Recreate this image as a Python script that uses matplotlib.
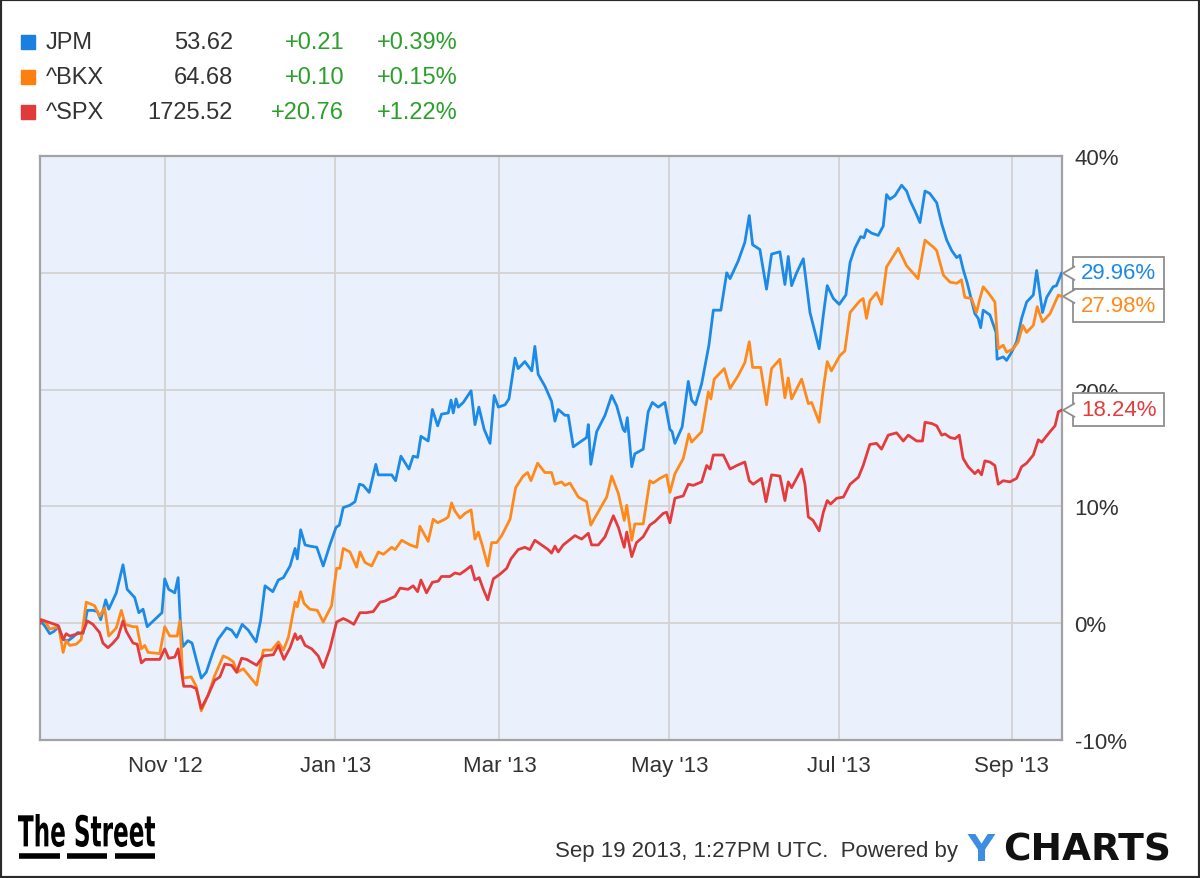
import numpy as np
import matplotlib
matplotlib.use("Agg")
import matplotlib.pyplot as plt
import matplotlib.dates as mdates
from matplotlib.patches import Rectangle, Polygon, PathPatch
from matplotlib.lines import Line2D
from matplotlib.textpath import TextPath
from matplotlib.font_manager import FontProperties
from matplotlib.transforms import blended_transform_factory, Affine2D
from datetime import datetime

# Datos: (dias desde 17-sep-2012, cambio %)
jpm_points = [
    (0, 0.0), (0.3, 0.2), (1.9, -0.3), (3.5, -0.9), (5.0, -0.7), (6.7, -0.3), (8.3, -1.4), (10.1, -1.5),
    (11.8, -1.2), (13.6, -0.8), (15.4, -0.9), (17.0, 1.1), (19.0, 1.1), (20.6, 1.0), (21.8, 0.3),
    (23.6, 2.0), (24.7, 1.2), (27.4, 2.6), (29.8, 5.0), (31.3, 2.9), (34.0, 2.2), (35.5, 0.9),
    (37.0, 1.2), (38.5, -0.3), (43.8, 0.9), (44.8, 3.8), (46.2, 2.9), (48.4, 2.6), (49.6, 3.9),
    (50.4, 0.1), (51.3, -2.0), (53.1, -1.5), (54.6, -1.7), (56.1, -3.1), (57.9, -4.7), (59.7, -4.2),
    (62.1, -2.5), (63.9, -1.4), (67.0, -0.4), (68.8, -0.6), (70.6, -1.2), (72.6, -0.1), (74.8, -0.6),
    (77.6, -1.6), (79.2, 0.2), (80.8, 3.2), (83.6, 2.7), (85.6, 3.7), (87.4, 3.9), (89.8, 4.9),
    (91.6, 6.4), (92.4, 5.5), (93.6, 8.0), (95.2, 6.7), (96.9, 6.6), (99.4, 6.5), (101.7, 4.9),
    (104.1, 6.7), (106.3, 8.2), (107.5, 8.4), (108.9, 9.9), (111.3, 10.1), (113.1, 10.4), (114.7, 11.9),
    (116.1, 11.8), (118.2, 11.2), (120.6, 13.6), (121.5, 12.7), (123.9, 12.7), (126.3, 12.7),
    (127.7, 12.2), (129.6, 14.3), (132.5, 13.2), (134.0, 14.3), (135.6, 14.2), (136.8, 16.0),
    (139.4, 15.6), (140.9, 18.3), (142.8, 16.9), (144.2, 17.9), (146.6, 18.0), (147.6, 19.1),
    (148.4, 18.0), (149.4, 19.2), (150.2, 18.5), (152.0, 18.9), (154.8, 19.9), (156.2, 17.0),
    (157.6, 18.5), (159.5, 16.6), (161.6, 15.4), (163.1, 19.5), (164.6, 18.5), (167.0, 18.7),
    (168.4, 19.2), (170.6, 22.7), (171.7, 21.8), (174.1, 22.4), (176.6, 21.6), (177.7, 23.7),
    (178.9, 21.3), (181.3, 20.3), (183.7, 19.0), (184.9, 17.3), (186.1, 18.3), (188.5, 17.8),
    (189.7, 17.8), (191.5, 15.1), (193.9, 15.5), (196.3, 15.9), (196.9, 17.0), (197.8, 13.6),
    (199.9, 16.4), (202.9, 17.8), (205.3, 19.5), (207.1, 18.6), (209.4, 16.6), (210.1, 16.4),
    (210.9, 17.6), (212.5, 13.4), (213.6, 14.5), (216.6, 14.9), (218.4, 18.1), (219.9, 18.9),
    (222.0, 18.5), (224.4, 18.9), (226.2, 16.6), (227.0, 16.4), (228.0, 15.4), (230.6, 16.8),
    (232.8, 20.7), (234.0, 19.1), (235.4, 18.7), (237.6, 20.5), (240.2, 23.8), (241.8, 26.8),
    (244.5, 26.8), (246.6, 30.0), (247.8, 29.5), (250.7, 31.0), (253.1, 32.6), (254.7, 34.9),
    (255.9, 32.4), (258.5, 32.0), (260.9, 28.6), (262.7, 31.6), (265.7, 31.8), (267.5, 29.0),
    (268.7, 31.4), (269.9, 28.9), (271.7, 30.0), (274.1, 31.2), (276.5, 26.6), (279.8, 23.5),
    (281.3, 26.4), (282.7, 28.9), (284.9, 27.8), (287.0, 27.3), (289.4, 28.1), (290.9, 30.9),
    (292.6, 32.1), (294.7, 33.1), (295.9, 33.0), (296.8, 33.7), (298.6, 33.4), (301.0, 33.2),
    (302.8, 34.0), (304.0, 36.7), (305.2, 36.3), (307.0, 36.6), (309.4, 37.5), (311.2, 37.0),
    (312.4, 36.2), (314.2, 35.3), (316.0, 34.3), (317.8, 37.0), (319.5, 36.8), (322.0, 36.0),
    (323.8, 34.2), (325.6, 32.8), (327.4, 31.9), (329.2, 31.3), (330.3, 31.5), (331.5, 30.3),
    (333.0, 29.1), (335.7, 26.5), (336.9, 26.1), (337.8, 25.3), (338.7, 26.8), (341.1, 26.4),
    (343.3, 24.9), (343.7, 22.6), (345.9, 22.8), (347.1, 22.5), (348.9, 23.2), (350.7, 24.1),
    (352.5, 26.1), (354.3, 27.5), (356.7, 28.1), (357.9, 30.2), (360.0, 26.6), (361.5, 27.9),
    (363.8, 28.8), (365.0, 28.9), (366.8, 29.96),
]

bkx_points = [
    (0, 0.0), (0.3, 0.3), (1.7, 0.2), (3.5, -0.5), (5.3, -0.4), (6.7, -0.3), (8.3, -2.5), (9.4, -1.5),
    (10.7, -1.9), (13.0, -1.8), (14.8, -1.4), (16.6, 1.8), (19.6, 1.5), (21.4, 0.6), (23.2, 1.3),
    (24.7, -1.1), (27.4, -0.4), (29.2, 1.1), (30.6, -0.1), (33.4, -0.3), (34.8, -0.3), (36.4, -2.2),
    (37.6, -1.9), (38.8, -2.5), (43.0, -2.6), (44.8, -0.3), (46.6, -1.1), (49.3, -1.1), (50.2, 0.2),
    (51.3, -4.7), (54.3, -4.6), (56.1, -5.4), (57.9, -7.5), (60.3, -6.2), (62.7, -4.5), (64.0, -3.8),
    (65.8, -2.8), (67.6, -3.0), (69.4, -3.3), (70.8, -4.2), (73.0, -3.9), (75.4, -4.6), (77.8, -5.3),
    (80.2, -2.3), (83.2, -2.3), (85.6, -1.6), (87.4, -2.3), (89.2, -1.2), (91.6, 1.8), (92.4, 1.4),
    (93.6, 2.7), (94.8, 1.7), (96.9, 1.2), (99.6, 1.1), (101.7, 0.1), (104.7, 1.5), (106.5, 4.7),
    (107.7, 4.7), (108.9, 6.4), (111.3, 6.1), (113.7, 4.8), (114.9, 6.1), (116.7, 5.2), (119.1, 4.9),
    (121.5, 6.1), (123.3, 5.9), (126.3, 6.5), (127.5, 6.3), (129.9, 7.1), (132.9, 6.7), (135.3, 6.5),
    (136.4, 8.3), (139.4, 7.0), (141.2, 8.9), (142.8, 8.6), (145.4, 8.9), (146.6, 9.1), (147.8, 10.3),
    (149.0, 9.6), (150.8, 9.0), (152.6, 9.4), (154.8, 9.7), (156.2, 7.2), (157.4, 7.8), (158.8, 6.7),
    (160.8, 4.9), (162.2, 6.9), (164.0, 6.9), (165.8, 7.5), (168.8, 8.9), (170.8, 11.6), (173.5, 12.6),
    (175.1, 12.9), (176.3, 12.2), (178.7, 13.7), (181.3, 12.9), (183.7, 12.9), (184.9, 11.9),
    (187.3, 12.1), (188.5, 11.8), (190.3, 12.0), (193.3, 10.8), (196.3, 10.4), (197.8, 8.4),
    (199.9, 9.3), (203.5, 10.8), (205.3, 12.6), (207.7, 11.1), (209.8, 8.8), (210.7, 10.1),
    (212.5, 7.1), (213.6, 8.5), (216.6, 8.5), (219.0, 12.2), (220.2, 12.0), (222.6, 12.4),
    (225.0, 12.7), (226.2, 11.2), (228.0, 12.8), (231.0, 14.1), (233.0, 16.2), (234.0, 15.5),
    (237.6, 16.4), (240.0, 19.8), (240.9, 19.2), (242.1, 20.9), (245.7, 21.8), (247.8, 20.1),
    (250.7, 21.2), (253.1, 22.3), (254.7, 24.1), (255.9, 21.9), (258.8, 21.9), (260.9, 18.7),
    (262.7, 21.8), (265.7, 22.6), (267.5, 19.3), (268.7, 21.0), (269.9, 19.2), (273.5, 20.9),
    (275.9, 18.8), (277.1, 18.9), (279.8, 17.2), (281.3, 20.1), (282.7, 22.4), (284.2, 21.6),
    (287.2, 22.9), (289.0, 23.3), (290.9, 26.6), (294.4, 27.6), (295.6, 27.8), (296.8, 26.1),
    (298.0, 27.6), (300.4, 28.3), (302.2, 27.3), (304.0, 30.5), (308.2, 32.1), (311.2, 30.6),
    (315.3, 29.5), (317.8, 32.8), (320.8, 32.2), (322.0, 31.9), (324.4, 29.8), (326.8, 29.2),
    (329.2, 29.1), (330.9, 29.4), (332.1, 27.9), (334.5, 27.8), (336.3, 26.6), (337.3, 27.6),
    (338.7, 28.8), (340.5, 28.3), (342.9, 27.5), (344.1, 23.5), (345.9, 23.8), (347.1, 23.2),
    (349.5, 23.5), (351.3, 24.1), (352.9, 25.5), (354.3, 24.9), (356.7, 25.5), (358.1, 27.1),
    (360.0, 25.8), (362.7, 26.5), (365.7, 28.1), (366.8, 27.98),
]

spx_points = [
    (0, 0.0), (0.3, 0.3), (2.9, 0.1), (6.5, -0.2), (8.3, -1.4), (9.4, -0.9), (10.7, -1.1), (13.6, -0.9),
    (15.4, -0.8), (17.0, 0.2), (19.0, -0.1), (21.4, -0.8), (22.6, -1.7), (24.4, -2.1), (26.2, -1.7),
    (28.0, -1.2), (29.8, 0.2), (31.0, -0.7), (33.4, -1.7), (34.9, -1.8), (36.4, -3.4), (37.8, -3.1),
    (43.0, -3.1), (44.8, -2.2), (46.2, -3.0), (48.4, -2.9), (49.6, -2.2), (51.6, -5.4), (54.3, -5.4),
    (56.1, -5.6), (57.9, -7.3), (60.3, -6.2), (62.7, -4.9), (64.6, -4.6), (66.4, -3.5), (68.8, -3.6),
    (70.6, -4.2), (72.4, -3.0), (74.2, -3.1), (77.8, -3.6), (80.2, -2.8), (83.8, -2.7), (85.6, -1.9),
    (87.6, -3.1), (89.8, -2.1), (91.6, -0.9), (92.4, -1.4), (93.6, -1.1), (95.2, -1.9), (97.6, -2.2),
    (99.9, -2.8), (101.7, -3.8), (104.1, -2.2), (106.5, 0.1), (108.9, 0.4), (110.7, 0.2), (112.7, -0.1),
    (114.9, 0.9), (117.3, 0.9), (119.7, 1.0), (122.1, 1.8), (123.9, 1.9), (127.5, 2.3), (129.3, 3.0),
    (132.2, 2.9), (134.0, 3.2), (135.6, 2.7), (136.8, 3.7), (138.8, 2.6), (140.9, 3.5), (143.0, 3.6),
    (144.2, 4.0), (147.2, 4.0), (149.0, 4.3), (150.8, 4.2), (152.6, 4.5), (154.8, 4.9), (156.2, 3.7),
    (157.7, 3.9), (159.2, 2.9), (160.8, 2.0), (162.8, 3.8), (165.2, 4.2), (167.6, 4.7), (169.1, 5.5),
    (171.7, 6.3), (174.1, 6.5), (175.9, 6.3), (177.7, 7.1), (180.1, 6.7), (182.5, 6.3), (183.7, 6.0),
    (184.9, 6.6), (186.1, 6.1), (187.9, 6.7), (192.1, 7.5), (194.5, 7.2), (196.9, 7.7), (198.1, 6.7),
    (200.5, 6.7), (202.9, 7.4), (205.9, 9.2), (207.7, 8.2), (209.8, 6.5), (210.7, 7.8), (212.5, 5.7),
    (214.2, 6.9), (216.6, 7.4), (219.0, 8.4), (220.8, 8.7), (223.8, 9.4), (225.0, 9.5), (226.2, 8.6),
    (228.0, 10.7), (231.0, 10.9), (232.8, 11.9), (234.6, 11.8), (237.6, 12.1), (239.4, 13.5),
    (240.6, 13.2), (241.8, 14.4), (245.4, 14.4), (247.8, 13.2), (250.2, 13.5), (253.1, 13.8),
    (254.7, 12.2), (256.1, 11.9), (259.1, 12.4), (260.7, 10.4), (262.7, 12.7), (265.7, 12.6),
    (267.5, 10.5), (268.7, 12.1), (269.9, 11.6), (273.5, 13.2), (274.7, 11.9), (275.9, 9.1),
    (277.6, 8.8), (279.8, 7.9), (281.3, 9.5), (282.7, 10.5), (283.9, 10.2), (286.1, 10.7),
    (288.5, 10.8), (290.9, 11.9), (293.9, 12.5), (295.6, 13.5), (298.0, 15.3), (300.4, 15.4),
    (302.2, 14.9), (304.6, 16.1), (307.6, 16.3), (310.0, 15.6), (311.8, 16.1), (314.8, 15.6),
    (316.9, 15.6), (317.8, 17.2), (320.2, 17.1), (322.0, 16.9), (323.8, 16.1), (325.0, 16.2),
    (326.8, 15.9), (328.6, 15.8), (330.1, 16.1), (331.5, 14.1), (333.3, 13.4), (335.7, 12.8),
    (336.9, 13.1), (338.1, 12.7), (339.3, 13.9), (341.1, 13.8), (342.9, 13.5), (344.1, 11.9),
    (345.9, 12.2), (348.3, 12.1), (350.7, 12.4), (352.5, 13.4), (354.3, 13.7), (356.7, 14.4),
    (358.5, 15.7), (359.7, 15.5), (362.7, 16.4), (364.5, 16.9), (365.7, 18.1), (366.8, 18.24),
]

tickers = ["JPM", "^BKX", "^SPX"]
prices = ["53.62", "64.68", "1725.52"]
changes = ["+0.21", "+0.10", "+20.76"]
pct_changes = ["+0.39%", "+0.15%", "+1.22%"]
end_labels = ["29.96%", "27.98%", "18.24%"]
label_centers = [30.0, 27.2, 18.3]   # donde se dibuja cada caja (en %)

tick_dates = [datetime(2012, 11, 1), datetime(2013, 1, 1), datetime(2013, 3, 1),
              datetime(2013, 5, 1), datetime(2013, 7, 1), datetime(2013, 9, 1)]
tick_labels = ["Nov '12", "Jan '13", "Mar '13", "May '13", "Jul '13", "Sep '13"]
y_ticks = [-10, 0, 10, 20, 30, 40]
y_tick_labels = ["-10%", "0%", "10%", "20%", "", "40%"]  # el 30% queda tapado por la caja

line_colors = ["#1c8ae6", "#ff8a1a", "#e43c3c"]
box_colors = ["#1a7fe0", "#ff7f0e", "#e03a3a"]
start = datetime(2012, 9, 17)
plt.rcParams["font.family"] = ["Liberation Sans", "DejaVu Sans"]

W, H = 1200, 879
fig = plt.figure(figsize=(W / 100, H / 100), dpi=100)
fig.patch.set_facecolor("white")


def px(x, y):
    return x / W, 1 - y / H


ax = fig.add_axes([40 / W, (H - 741) / H, 1022 / W, 584 / H])
ax.set_facecolor("#eaf1fc")

base = mdates.date2num(start)
for pts, c in zip([jpm_points, bkx_points, spx_points], line_colors):
    arr = np.array(pts)
    ax.plot(base + arr[:, 0], arr[:, 1], color=c, lw=2.0, solid_joinstyle="round", zorder=3)

ax.set_xlim(base, base + 367)
ax.set_ylim(-10, 40)
ax.set_xticks(mdates.date2num(tick_dates))
ax.set_xticklabels(tick_labels)
ax.yaxis.tick_right()
ax.set_yticks(y_ticks)
ax.set_yticklabels(y_tick_labels)
ax.tick_params(axis="x", length=0, pad=11, labelsize=16, labelcolor="#333333")
ax.tick_params(axis="y", length=0, pad=9, labelsize=16, labelcolor="#333333")
ax.grid(True, color="#d3d3d3", lw=1.3)
ax.set_axisbelow(True)
for s in ax.spines.values():
    s.set_color("#a3a3a3")
    s.set_linewidth(1.6)

# cajas de valor final
trans = blended_transform_factory(ax.transAxes, ax.transData)
bx, bw, bh = 1.0108, 0.089, 2.75
for pts, lab, yc, c in zip([jpm_points, bkx_points, spx_points], end_labels, label_centers, line_colors):
    v = pts[-1][1]
    ax.add_patch(Rectangle((bx, yc - bh / 2), bw, bh, transform=trans, clip_on=False,
                           fc="white", ec="#8f8f8f", lw=1.3, zorder=6))
    ax.add_patch(Polygon([(bx + 0.002, v + 0.6), (1.001, v), (bx + 0.002, v - 0.6)], closed=False,
                         transform=trans, clip_on=False, fc="white", ec="#8f8f8f", lw=1.3, zorder=7))
    ax.text(bx + bw / 2, yc, lab, transform=trans, ha="center", va="center",
            fontsize=16, color=c, zorder=8, clip_on=False)

# leyenda superior
rows_y = [43, 78, 113]
for i, yy in enumerate(rows_y):
    fig.add_artist(Rectangle(px(21, yy + 7), 14 / W, 14 / H, transform=fig.transFigure,
                             color=box_colors[i]))
    fig.text(*px(46, yy), tickers[i], fontsize=17, color="#333333", va="center", ha="left")
    fig.text(*px(233, yy), prices[i], fontsize=17, color="#333333", va="center", ha="right")
    fig.text(*px(344, yy), changes[i], fontsize=17, color="#2ca02c", va="center", ha="right")
    fig.text(*px(458, yy), pct_changes[i], fontsize=17, color="#2ca02c", va="center", ha="right")

# logo "The Street": texto estrecho hecho con TextPath escalado
tp = TextPath((0, 0), "The Street", size=40, prop=FontProperties(family="DejaVu Sans", weight="bold"))
ext = tp.get_extents()
logo = (Affine2D().translate(-ext.x0, -ext.y0)
        .scale(137 / ext.width, 33 / ext.height)
        .translate(18, H - 848)
        .scale(1 / W, 1 / H)).transform_path(tp)
fig.add_artist(PathPatch(logo, transform=fig.transFigure, fc="black", ec="none"))
for x0, x1 in [(19, 60), (67, 107), (115, 155)]:
    fig.add_artist(Line2D([x0 / W, x1 / W], [1 - 857 / H] * 2, color="black", lw=4,
                          solid_capstyle="butt"))

fig.text(*px(958, 852), "Sep 19 2013, 1:27PM UTC.  Powered by", fontsize=16, color="#333333",
         va="center", ha="right")
fig.text(*px(967, 851), "Y", fontsize=27, fontweight="bold", color="#3d8ee0",
         family=["DejaVu Sans"], va="center", ha="left")
fig.text(*px(1003, 851), "CHARTS", fontsize=27, fontweight="bold", color="#111111",
         family=["DejaVu Sans"], va="center", ha="left")

fig.add_artist(Rectangle((0, 0), 1, 1, transform=fig.transFigure, fill=False,
                         ec="#2a2a2a", lw=3))

fig.savefig("out.png", dpi=100, facecolor="white")
